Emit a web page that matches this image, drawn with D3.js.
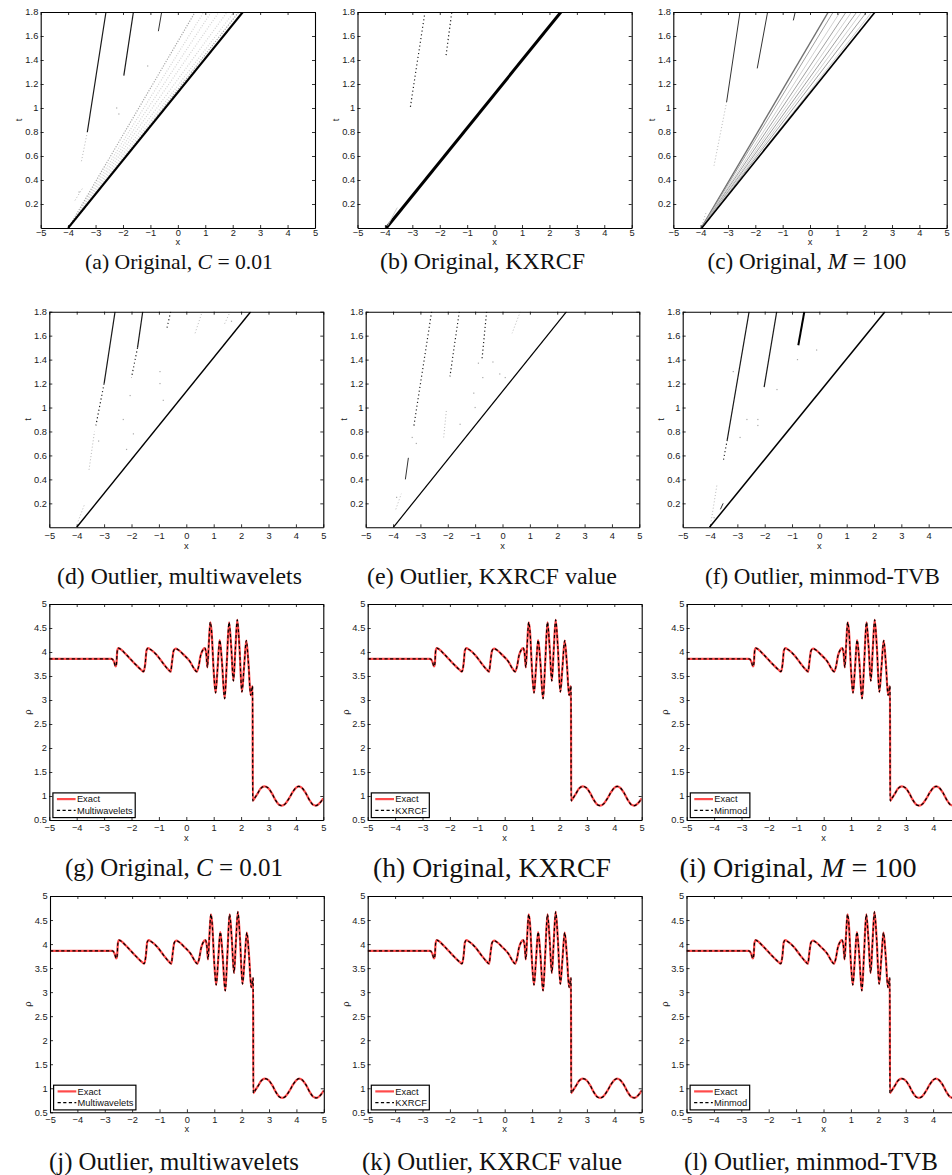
<!DOCTYPE html>
<html><head><meta charset="utf-8">
<script src="https://cdn.jsdelivr.net/npm/d3@7"></script>
<style>
body{margin:0;background:#fff;}
svg{display:block;background:#fff;}
.tick text{font-family:"Liberation Sans",Arial,sans-serif;}
</style>
</head><body>
<svg id="fig" width="952" height="1175"></svg>
<script>
// ---------------- DATA ----------------
const xTickValues = [-5,-4,-3,-2,-1,0,1,2,3,4,5];
const tTickValues = [0.2,0.4,0.6,0.8,1,1.2,1.4,1.6,1.8];
const rhoTickValues = [0.5,1,1.5,2,2.5,3,3.5,4,4.5,5];

// troubled-cell traces in (x,t): [x0,t0,x1,t1,kind]
const cellsA = [
  [-3.97,0.0,2.22,1.8,'hazeDark'],
  [-3.97,0.0,2.05,1.8,'haze'],
  [-3.97,0.0,1.80,1.8,'haze'],
  [-3.97,0.0,1.50,1.8,'haze'],
  [-3.97,0.0,1.22,1.8,'haze'],
  [-3.98,0.0,0.95,1.8,'haze'],
  [-3.99,0.0,0.63,1.8,'hazeDark'],
  [-4.00,0.0,2.37,1.8,'shock'],
  [-2.62,1.8,-3.30,0.80,'solid'],
  [-3.30,0.80,-3.52,0.55,'faint'],
  [-1.62,1.8,-1.97,1.27,'solid'],
  [-0.59,1.8,-0.71,1.64,'dark'],
  [-3.75,0.23,-3.45,0.34,'faint']
];
const specksA = [[-2.23,1.0],[-2.15,0.95],[-1.1,1.35],[-3.6,0.3]];

const cellsB = [
  [-3.95,0.0,2.42,1.8,'shock'],
  [-3.90,0.02,-3.55,0.17,'greyLight'],
  [-3.07,1.01,-2.54,1.8,'dotted'],
  [-1.77,1.44,-1.56,1.8,'dotted']
];
const specksB = [];

const cellsC = [
  [-3.98,0.0,0.67,1.8,'greyDark'],
  [-3.97,0.0,0.85,1.8,'grey'],
  [-3.96,0.0,1.10,1.8,'greyLight'],
  [-3.96,0.0,1.32,1.8,'grey'],
  [-3.95,0.0,1.52,1.8,'greyLight'],
  [-3.95,0.0,1.71,1.8,'grey'],
  [-3.94,0.0,1.89,1.8,'greyLight'],
  [-3.94,0.0,2.07,1.8,'grey'],
  [-3.94,0.0,2.26,1.8,'greyLight'],
  [-3.96,0.0,2.38,1.8,'shock'],
  [-2.56,1.8,-3.05,1.05,'dark'],
  [-3.05,1.05,-3.51,0.52,'faint'],
  [-1.55,1.8,-1.93,1.33,'dark'],
  [-0.54,1.8,-0.61,1.73,'dark'],
  [-3.93,0.04,-3.80,0.13,'faint']
];
const specksC = [];

const cellsD = [
  [-4.00,0.0,2.35,1.8,'shock'],
  [-2.60,1.8,-3.00,1.20,'solid'],
  [-3.00,1.20,-3.30,0.85,'dotted'],
  [-1.59,1.8,-1.78,1.50,'solid'],
  [-1.78,1.50,-2.00,1.25,'dotted'],
  [-0.57,1.8,-0.72,1.65,'dotted'],
  [-3.55,0.48,-3.35,0.80,'faint'],
  [0.32,1.62,0.58,1.8,'faint'],
  [-3.95,0.05,-3.70,0.20,'faint'],
  [1.40,1.70,1.60,1.8,'faint']
];
const specksD = [[-2.3,0.9],[-1.93,0.78],[-2.18,0.65],[-0.96,1.2],[-0.84,1.06],[-0.96,1.3],[1.65,1.72],[-3.2,0.72],[-2.05,1.1]];

const cellsE = [
  [-3.99,0.0,2.34,1.8,'shock'],
  [-2.59,1.8,-3.25,0.83,'dotted'],
  [-1.58,1.8,-1.92,1.26,'dotted'],
  [-0.58,1.8,-0.75,1.40,'dotted'],
  [0.65,1.8,0.35,1.62,'faint'],
  [-3.55,0.40,-3.44,0.58,'dark'],
  [-3.90,0.15,-3.70,0.28,'faint'],
  [-2.15,0.75,-2.05,0.98,'faint']
];
const specksE = [[-3.87,0.25],[-3.15,0.7],[-1.55,0.86],[-1.05,1.12],[-0.88,1.37],[-0.72,1.25],[-0.35,1.38],[-0.1,1.28],[0.1,1.25],[-1.0,1.0],[-3.3,0.75]];

const cellsF = [
  [-4.02,0.0,2.40,1.8,'shock'],
  [-2.57,1.8,-3.37,0.73,'solid'],
  [-3.37,0.73,-3.51,0.56,'dotted'],
  [-1.56,1.8,-2.02,1.17,'solid'],
  [-0.55,1.8,-0.77,1.52,'thick'],
  [-3.96,0.05,-3.75,0.35,'faint'],
  [-3.62,0.15,-3.52,0.20,'dark']
];
const specksF = [[-3.15,1.3],[-2.65,0.9],[-2.25,0.9],[-2.25,0.85],[-2.9,0.75],[-1.55,1.15],[-0.8,1.4],[-0.1,1.48],[-3.85,0.08]];

// density profile (Shu-Osher)
const rhoX = [-5,-2.72,-2.64,-2.58,-2.55,-2.52,-2.48,-2.40,-2.25,-2.05,-1.85,-1.65,-1.56,-1.50,-1.45,-1.40,-1.30,-1.08,-0.84,-0.65,-0.57,-0.52,-0.46,-0.39,-0.28,-0.11,0.135,0.30,0.38,0.45,0.52,0.60,0.68,0.73,0.77,0.82,0.875,0.92,1.00,1.07,1.14,1.22,1.30,1.40,1.48,1.56,1.64,1.72,1.79,1.86,1.94,2.03,2.11,2.19,2.27,2.35,2.40,2.42,2.425,2.50,2.60,2.72,2.85,2.98,3.12,3.25,3.38,3.48,3.60,3.75,3.88,4.00,4.10,4.22,4.35,4.48,4.62,4.73,4.85,5.0];
const rhoExact = [3.857,3.857,3.80,3.70,3.75,4.02,4.08,4.06,3.98,3.86,3.74,3.63,3.59,3.75,4.04,4.08,4.05,3.94,3.76,3.63,3.59,3.80,4.03,4.07,4.04,3.95,3.80,3.64,3.59,3.70,3.92,4.04,4.08,3.95,3.68,4.15,4.62,4.45,3.60,3.15,3.65,4.25,3.80,3.03,3.80,4.62,4.10,3.40,4.05,4.67,4.10,3.17,3.70,4.24,3.75,3.10,3.25,3.29,0.90,0.96,1.05,1.16,1.20,1.17,1.06,0.92,0.82,0.80,0.83,0.95,1.08,1.17,1.20,1.17,1.07,0.93,0.82,0.80,0.84,0.95];
const rhoNumeric = rhoExact; // numerical curve coincides with the exact one at this scale
const legendNames = ['Multiwavelets','KXRCF','Minmod'];

// ---------------- LAYOUT ----------------
const rowCfg = [
  {y0:12,   y1:228,    pad:1.2, xlab:14.5, capY:263},
  {y0:311.7,y1:527.3,  pad:5.6, xlab:19.0, capY:578},
  {y0:604,  y1:820,    pad:4.6, xlab:17.7, capY:869.5},
  {y0:896,  y1:1112.3, pad:3.8, xlab:17.2, capY:1163}
];
const panels = [
  {id:'a',row:0,x0:40.7, x1:315,  cells:cellsA,specks:specksA,shockW:2.1},
  {id:'b',row:0,x0:357.5,x1:631.7,cells:cellsB,specks:specksB,shockW:3.0},
  {id:'c',row:0,x0:673.3,x1:946.7,cells:cellsC,specks:specksC,shockW:1.6},
  {id:'d',row:1,x0:49.3, x1:323.3,cells:cellsD,specks:specksD,shockW:1.4},
  {id:'e',row:1,x0:365.7,x1:639.3,cells:cellsE,specks:specksE,shockW:1.2},
  {id:'f',row:1,x0:682.7,x1:956.0,cells:cellsF,specks:specksF,shockW:1.5},
  {id:'g',row:2,x0:49.3, x1:323.3,legend:0},
  {id:'h',row:2,x0:367.7,x1:641.7,legend:1},
  {id:'i',row:2,x0:686.7,x1:960.7,legend:2},
  {id:'j',row:3,x0:50.0, x1:323.8,legend:0},
  {id:'k',row:3,x0:367.7,x1:641.7,legend:1},
  {id:'l',row:3,x0:686.5,x1:960.5,legend:2}
];
const captions = [
  {id:'a', cx:179,   w:188, parts:[['(a) Original, ',0],['C',1],[' = 0.01',0]]},
  {id:'b', cx:482.5, w:205, parts:[['(b) Original, KXRCF',0]]},
  {id:'c', cx:807,   w:199, parts:[['(c) Original, ',0],['M',1],[' = 100',0]]},
  {id:'d', cx:179.5, w:245, parts:[['(d) Outlier, multiwavelets',0]]},
  {id:'e', cx:492,   w:250, parts:[['(e) Outlier, KXRCF value',0]]},
  {id:'f', cx:822.5, w:235, parts:[['(f) Outlier, minmod-TVB',0]]},
  {id:'g', cx:174,   w:218, parts:[['(g) Original, ',0],['C',1],[' = 0.01',0]]},
  {id:'h', cx:492,   w:238, parts:[['(h) Original, KXRCF',0]]},
  {id:'i', cx:798,   w:237, parts:[['(i) Original, ',0],['M',1],[' = 100',0]]},
  {id:'j', cx:174,   w:250, parts:[['(j) Outlier, multiwavelets',0]]},
  {id:'k', cx:492,   w:260, parts:[['(k) Outlier, KXRCF value',0]]},
  {id:'l', cx:811,   w:254, parts:[['(l) Outlier, minmod-TVB',0]]}
];
const kindStyle = {
  solid:    {c:'#1a1a1a', w:1.2, d:null},
  thick:    {c:'#000', w:2.0, d:null},
  dark:     {c:'#333', w:1.0, d:null},
  dotted:   {c:'#222', w:1.2, d:'1.2,2.6'},
  faint:    {c:'#b8b8b8', w:1.0, d:'1,2.2'},
  haze:     {c:'#d4d4d4', w:1.2, d:'1,1.6'},
  hazeDark: {c:'#a8a8a8', w:1.2, d:'1.2,1.4'},
  grey:     {c:'#a0a0a0', w:1.0, d:null},
  greyDark: {c:'#707070', w:1.4, d:null},
  greyLight:{c:'#cccccc', w:0.9, d:null}
};

const FONT = '"Liberation Sans", Arial, sans-serif';
const TICKFS = 9.3;
const PAGE_W = 952;
const svg = d3.select('#fig');
svg.append('rect').attr('width',952).attr('height',1175).attr('fill','#fff');

panels.forEach(p => {
  const r = rowCfg[p.row];
  const isCells = p.row < 2;
  const x = d3.scaleLinear().domain([-5,5]).range([p.x0,p.x1]);
  const y = d3.scaleLinear().domain(isCells ? [0,1.8] : [0.5,5]).range([r.y1,r.y0]);
  const g = svg.append('g');
  const clipId = 'clip-'+p.id;
  svg.append('clipPath').attr('id',clipId).append('rect')
    .attr('x',p.x0).attr('y',r.y0).attr('width',p.x1-p.x0).attr('height',r.y1-r.y0);
  const marks = g.append('g').attr('clip-path','url(#'+clipId+')');

  if (isCells) {
    marks.selectAll('line.cell').data(p.cells).join('line')
      .attr('x1',d=>x(d[0])).attr('y1',d=>y(d[1])).attr('x2',d=>x(d[2])).attr('y2',d=>y(d[3]))
      .attr('stroke',d=> d[4]==='shock' ? '#000' : kindStyle[d[4]].c)
      .attr('stroke-width',d=> d[4]==='shock' ? p.shockW : kindStyle[d[4]].w)
      .attr('stroke-dasharray',d=> d[4]==='shock' ? null : kindStyle[d[4]].d)
      .attr('stroke-linecap','butt');
    marks.selectAll('rect.speck').data(p.specks).join('rect')
      .attr('x',d=>x(d[0])-0.6).attr('y',d=>y(d[1])-0.6).attr('width',1.2).attr('height',1.2)
      .attr('fill','#aaa');
  } else {
    const pts = rhoX.map((v,i)=>[v, rhoExact[i]]);
    const ptsN = rhoX.map((v,i)=>[v, rhoNumeric[i]]);
    const line = d3.line().x(d=>x(d[0])).y(d=>y(d[1])).curve(d3.curveMonotoneX);
    marks.append('path').attr('d',line(pts)).attr('fill','none')
      .attr('stroke','#ff2a2a').attr('stroke-width',2.2).attr('stroke-opacity',0.85);
    marks.append('path').attr('d',line(ptsN)).attr('fill','none')
      .attr('stroke','#000').attr('stroke-width',1.2).attr('stroke-dasharray','3.2,2.4');
  }

  // axes (box with inward ticks); labels past the page edge are not shown
  const visibleX = xTickValues.filter(v => x(v) <= PAGE_W - 4);
  const axB = d3.axisBottom(x).tickValues(xTickValues).tickSize(-3).tickSizeOuter(0).tickPadding(r.pad)
    .tickFormat(d => visibleX.includes(d) ? d3.format('d')(d) : '');
  const axT = d3.axisTop(x).tickValues(xTickValues).tickSize(-3).tickSizeOuter(0).tickFormat('');
  const yt = isCells ? tTickValues : rhoTickValues;
  const axL = d3.axisLeft(y).tickValues(yt).tickSize(-3).tickSizeOuter(0).tickPadding(2.4)
    .tickFormat(d => String(d));
  const axR = d3.axisRight(y).tickValues(yt).tickSize(-3).tickSizeOuter(0).tickFormat('');
  const styleAxis = sel => {
    sel.selectAll('.domain').attr('stroke','#000').attr('stroke-width',1.1);
    sel.selectAll('.tick line').attr('stroke','#000').attr('stroke-width',0.8);
    sel.selectAll('.tick text').attr('font-size',TICKFS).attr('font-family',FONT).attr('fill','#1a1a1a');
  };
  g.append('g').attr('transform',`translate(0,${r.y1})`).call(axB).call(styleAxis);
  g.append('g').attr('transform',`translate(0,${r.y0})`).call(axT).call(styleAxis);
  g.append('g').attr('transform',`translate(${p.x0},0)`).call(axL).call(styleAxis);
  g.append('g').attr('transform',`translate(${p.x1},0)`).call(axR).call(styleAxis);

  // axis labels
  g.append('text').attr('x',x(0)).attr('y',r.y1+r.xlab).attr('dy','0.32em')
    .attr('text-anchor','middle').attr('font-family',FONT).attr('font-size',TICKFS).attr('fill','#1a1a1a').text('x');
  g.append('text').attr('transform',`translate(${p.x0-21.5},${(r.y0+r.y1)/2}) rotate(-90)`)
    .attr('dy','0.32em').attr('text-anchor','middle').attr('font-family',FONT).attr('font-size',TICKFS)
    .attr('fill','#1a1a1a').text(isCells ? 't' : 'ρ');

  // legend
  if (!isCells) {
    const lg = g.append('g');
    const bx = p.x0 + 3.6, bh = 24.7, by = r.y1 - 2.4 - bh;
    const names = ['Exact', legendNames[p.legend]];
    const texts = names.map((n,i) => lg.append('text').attr('x',bx+24).attr('y',by + (i===0?6.2:17.4)).attr('dy','0.35em')
      .attr('font-family',FONT).attr('font-size',TICKFS).attr('fill','#111').text(n));
    const tw = d3.max(texts, t => t.node().getComputedTextLength());
    lg.insert('rect','text').attr('x',bx).attr('y',by).attr('width',24+tw+2.5).attr('height',bh)
      .attr('fill','#fff').attr('stroke','#000').attr('stroke-width',1.2);
    lg.append('line').attr('x1',bx+4).attr('x2',bx+22.7).attr('y1',by+6.2).attr('y2',by+6.2)
      .attr('stroke','#ff2a2a').attr('stroke-width',2.2).attr('stroke-opacity',0.85);
    lg.append('line').attr('x1',bx+4).attr('x2',bx+22.7).attr('y1',by+17.4).attr('y2',by+17.4)
      .attr('stroke','#000').attr('stroke-width',1.2).attr('stroke-dasharray','3.2,2.4');
  }
});

// captions
captions.forEach(c => {
  const p = panels.find(q => q.id === c.id);
  const r = rowCfg[p.row];
  const t = svg.append('text').attr('text-anchor','middle').attr('x',c.cx)
    .attr('font-family','"Liberation Serif","Times New Roman",serif').attr('font-size',20).attr('fill','#111');
  c.parts.forEach(pt => t.append('tspan').attr('font-style', pt[1] ? 'italic' : 'normal').text(pt[0]));
  const w = t.node().getComputedTextLength();
  const fs = 20 * c.w / w;
  t.attr('font-size', fs).attr('y', r.capY + 0.27*fs);
});
</script>
</body></html>
